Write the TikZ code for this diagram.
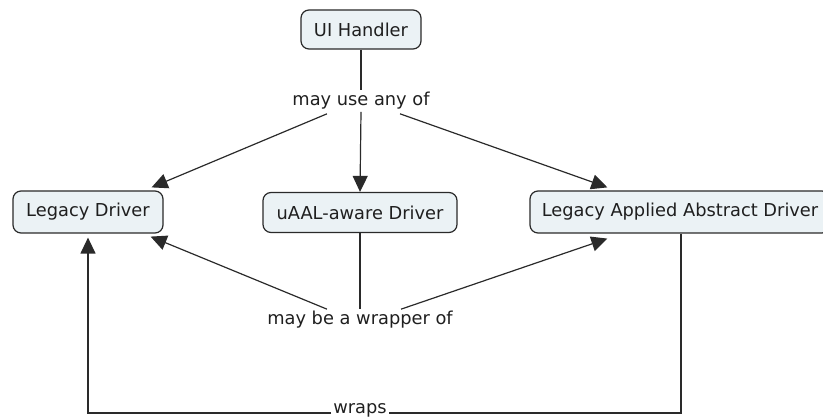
\documentclass[tikz,border=0pt]{standalone}
\usepackage{fontspec}
\setmainfont{DejaVu Sans}
\usetikzlibrary{arrows.meta,calc}
\definecolor{boxfill}{HTML}{EBF2F5}
\definecolor{edge}{HTML}{2A2A2A}
\begin{document}
\begin{tikzpicture}[x=1pt,y=-1pt,
  concept/.style={draw=edge, line width=1.2pt, fill=boxfill, rounded corners=8pt,
    inner xsep=4pt, inner ysep=2pt, font=\fontsize{17.8}{20}\selectfont, text=black!88},
  lbl/.style={inner sep=2pt, font=\fontsize{17.8}{20}\selectfont, text=black!88},
  link/.style={draw=edge, line width=1.2pt},
  arr/.style={link, -{Triangle[length=16pt,width=15pt]}}]
\useasboundingbox (0,0) rectangle (823,419);
\node[concept, minimum width=120pt, minimum height=39pt] (ui) at (361,29.5) {UI Handler};
\node[concept, minimum width=150pt, minimum height=42pt] (ld) at (88,212) {Legacy Driver};
\node[concept, minimum width=194pt, minimum height=40pt] (ua) at (360,212.5) {uAAL-aware Driver};
\node[concept, minimum width=300pt, minimum height=42pt] (la) at (680,212) {Legacy Applied Abstract Driver};
\node[lbl] (use) at (361,101) {may use any of};
\node[lbl] (wrap) at (360,320) {may be a wrapper of};
\node[lbl] (wraps) at (360,410) {wraps};
\coordinate (rc) at (681,413);
\coordinate (lc) at (88,413);
% may use any of
\draw[link] (ui.south) -- (use.north);
\draw[arr] (use.south) -- (ua.north);
\draw[arr] ($(use.south)+(-34,2)$) -- ($(ld.north east)+(-12,-3)$);
\draw[arr] ($(use.south)+(39,2)$) -- ($(la.north west)+(78,-3)$);
% may be a wrapper of
\draw[link] (ua.south) -- (wrap.north);
\draw[arr] ($(wrap.north)+(-33,0)$) -- ($(ld.south east)+(-13,3)$);
\draw[arr] ($(wrap.north)+(41,0)$) -- ($(la.south west)+(78,5)$);
% wraps
\draw[link] (la.south -| rc) -- (rc) -- (wraps.east |- rc);
\draw[arr] (wraps.west |- lc) -- (lc) -- ($(ld.south)+(0,4)$);
\end{tikzpicture}
\end{document}
